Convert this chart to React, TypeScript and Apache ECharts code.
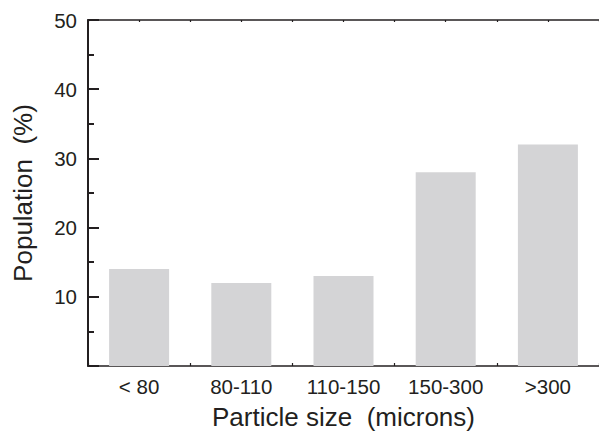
import React, { useEffect, useRef } from "react";
import * as echarts from "echarts";

const categories = ["< 80", "80-110", "110-150", "150-300", ">300"];
const population = [14, 12, 13, 28, 32];
const yTickValues = [10, 20, 30, 40, 50];

const FONT = "'Liberation Sans', Arial, Helvetica, sans-serif";
const INK = "#231f20";

export default function App() {
  const ref = useRef<HTMLDivElement>(null);
  useEffect(() => {
    if (!ref.current) return;
    const chart = echarts.init(ref.current, null, { renderer: "svg" });
    const tickAxisBase = {
      type: "value" as const,
      min: 0,
      max: categories.length,
      interval: 0.5,
      axisLabel: { show: false },
      splitLine: { show: false },
    };
    chart.setOption({
      animation: false,
      backgroundColor: "#ffffff",
      textStyle: { fontFamily: FONT, color: INK },
      grid: { left: 88, top: 20, right: 0, bottom: 63, containLabel: false },
      xAxis: [
        {
          type: "category",
          data: categories,
          position: "bottom",
          axisLine: { show: true, lineStyle: { color: INK, width: 1.6 } },
          axisTick: { show: false },
          axisLabel: { fontSize: 20.5, color: INK, margin: 10, fontFamily: FONT, interval: 0 },
          name: "Particle size  (microns)",
          nameLocation: "middle",
          nameGap: 38,
          nameTextStyle: { fontSize: 26, color: INK, fontFamily: FONT },
        },
        {
          ...tickAxisBase,
          position: "bottom",
          axisLine: { show: false },
          axisTick: { show: true, inside: true, length: 3, lineStyle: { color: INK, width: 1.2 } },
        },
        {
          ...tickAxisBase,
          position: "top",
          axisLine: { show: true, lineStyle: { color: INK, width: 1.6 } },
          axisTick: { show: true, inside: true, length: 2, lineStyle: { color: INK, width: 1.2 } },
        },
      ],
      yAxis: {
        type: "value",
        min: 0,
        max: 50,
        interval: 10,
        axisLine: { show: true, lineStyle: { color: INK, width: 2 } },
        axisTick: { show: true, inside: true, length: 11, lineStyle: { color: INK, width: 2 } },
        minorTick: { show: true, splitNumber: 2, length: 6, lineStyle: { color: INK, width: 2 } },
        splitLine: { show: false },
        axisLabel: {
          fontSize: 20.5,
          color: INK,
          margin: 11,
          fontFamily: FONT,
          formatter: (v: number) => (yTickValues.includes(v) ? String(v) : ""),
        },
        name: "Population  (%)",
        nameLocation: "middle",
        nameGap: 52,
        nameTextStyle: { fontSize: 26, color: INK, fontFamily: FONT },
      },
      series: [
        {
          type: "bar",
          xAxisIndex: 0,
          data: population,
          barWidth: 60,
          itemStyle: { color: "#d4d4d6" },
        },
      ],
    });
    return () => chart.dispose();
  }, []);
  return (
    <div
      ref={ref}
      style={{ position: "fixed", left: 0, top: 0, width: 599, height: 435 }}
    />
  );
}
